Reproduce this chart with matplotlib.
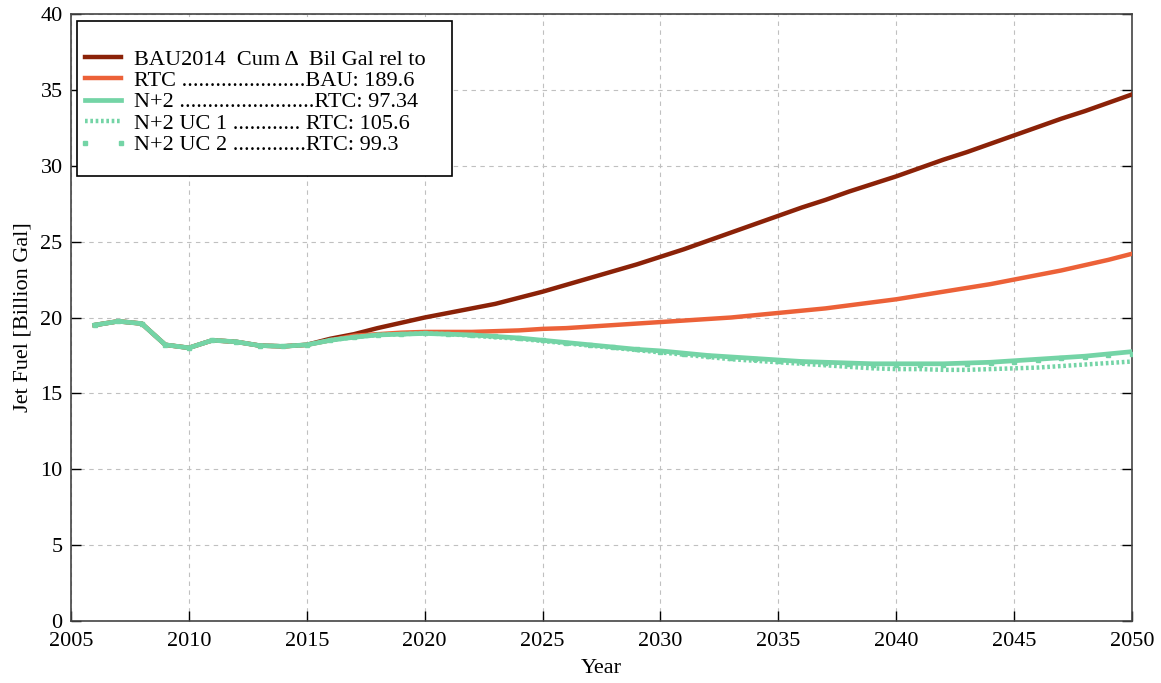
import matplotlib
matplotlib.use("Agg")
import matplotlib.pyplot as plt
from matplotlib.patches import Rectangle

plt.rcParams['font.family'] = ['Liberation Serif', 'DejaVu Serif']

years = list(range(2006, 2051))

hist = [19.5, 19.75, 19.6, 18.2, 18.0, 18.5, 18.4, 18.15, 18.1, 18.2]  # 2006-2015

bau_future = [18.6, 18.9, 19.3, 19.65, 20.0, 20.3, 20.6, 20.9, 21.3, 21.7,
              22.15, 22.6, 23.05, 23.5, 24.0, 24.5, 25.05, 25.6, 26.15, 26.7,
              27.25, 27.75, 28.3, 28.8, 29.3, 29.85, 30.4, 30.9, 31.45, 32.0,
              32.55, 33.1, 33.6, 34.15, 34.7]  # 2016-2050
rtc_future = [18.5, 18.8, 18.9, 19.0, 19.05, 19.05, 19.05, 19.1, 19.15, 19.25,
              19.3, 19.4, 19.5, 19.6, 19.7, 19.8, 19.9, 20.0, 20.15, 20.3,
              20.45, 20.6, 20.8, 21.0, 21.2, 21.45, 21.7, 21.95, 22.2, 22.5,
              22.8, 23.1, 23.45, 23.8, 24.2]
n2_future = [18.5, 18.7, 18.85, 18.9, 18.95, 18.9, 18.85, 18.75, 18.65, 18.5,
             18.35, 18.2, 18.05, 17.9, 17.8, 17.65, 17.5, 17.4, 17.3, 17.2,
             17.1, 17.05, 17.0, 16.95, 16.95, 16.95, 16.95, 17.0, 17.05, 17.15,
             17.25, 17.35, 17.45, 17.6, 17.75]
uc1_future = [18.5, 18.7, 18.85, 18.9, 18.95, 18.9, 18.8, 18.7, 18.6, 18.45,
              18.3, 18.15, 18.0, 17.85, 17.7, 17.55, 17.4, 17.25, 17.15, 17.05,
              16.95, 16.85, 16.75, 16.65, 16.6, 16.6, 16.55, 16.55, 16.6, 16.65,
              16.7, 16.8, 16.9, 17.0, 17.1]
uc2_future = [18.5, 18.7, 18.85, 18.9, 18.95, 18.9, 18.85, 18.75, 18.65, 18.5,
              18.35, 18.2, 18.05, 17.9, 17.75, 17.6, 17.45, 17.35, 17.25, 17.15,
              17.05, 17.0, 16.95, 16.9, 16.9, 16.9, 16.9, 16.95, 17.0, 17.1,
              17.2, 17.3, 17.4, 17.5, 17.6]

bau = hist + bau_future
rtc = hist + rtc_future
n2 = hist + n2_future
uc1 = hist + uc1_future
uc2 = hist + uc2_future

labels = ["BAU2014  Cum \u0394  Bil Gal rel to",
          "RTC ......................BAU: 189.6",
          "N+2 ........................RTC: 97.34",
          "N+2 UC 1 ............ RTC: 105.6",
          "N+2 UC 2 .............RTC: 99.3"]

c_bau = '#8B2208'
c_rtc = '#EC6138'
c_n2 = '#74D4A6'

W, H = 1161, 683
fig = plt.figure(figsize=(W / 100, H / 100), dpi=100)
ax = fig.add_axes([71 / W, 1 - 621 / H, (1132 - 71) / W, (621 - 14) / H])

ax.plot(years, bau, color=c_bau, lw=3.2, label=labels[0], zorder=3)
ax.plot(years, rtc, color=c_rtc, lw=3.2, label=labels[1], zorder=4)
ax.plot(years, n2, color=c_n2, lw=3.4, label=labels[2], zorder=6)
ax.plot(years, uc1, color=c_n2, lw=3.2, ls=(0, (0.6, 0.6)), label=labels[3], zorder=5)
ax.plot(years, uc2, color=c_n2, ls='none', marker='s', markersize=2.5, label=labels[4], zorder=5)

ax.set_xlim(2005, 2050)
ax.set_ylim(0, 40)
ax.set_xticks(range(2005, 2051, 5))
ax.set_yticks(range(0, 41, 5))
ax.tick_params(direction='in', length=7, labelsize=16, width=1, top=False, right=True)
ax.tick_params(axis='x', pad=8)
ax.tick_params(axis='y', pad=6)
ax.grid(True, color='#c0c0c0', ls=(0, (4, 4)), lw=0.8)
for s in ax.spines.values():
    s.set_color('#444444')
    s.set_linewidth(1.2)

ax.set_xlabel('Year', fontsize=16, labelpad=6)
ax.set_ylabel('Jet Fuel [Billion Gal]', fontsize=16, labelpad=6)

frame = Rectangle((77 / W, 1 - 176 / H), 375 / W, 155 / H, transform=fig.transFigure,
                  facecolor='white', edgecolor='black', lw=1.2, zorder=10)
fig.add_artist(frame)

handles, labs = ax.get_legend_handles_labels()
leg = fig.legend(handles, labs, loc='upper left', bbox_to_anchor=(78 / W, 1 - 49 / H),
                 bbox_transform=fig.transFigure, fontsize=16, frameon=False,
                 handlelength=2.23, handletextpad=0.27, labelspacing=0.04,
                 borderpad=0.0, borderaxespad=0.0, numpoints=2)
leg.set_zorder(11)

fig.savefig('out.png', dpi=100)
